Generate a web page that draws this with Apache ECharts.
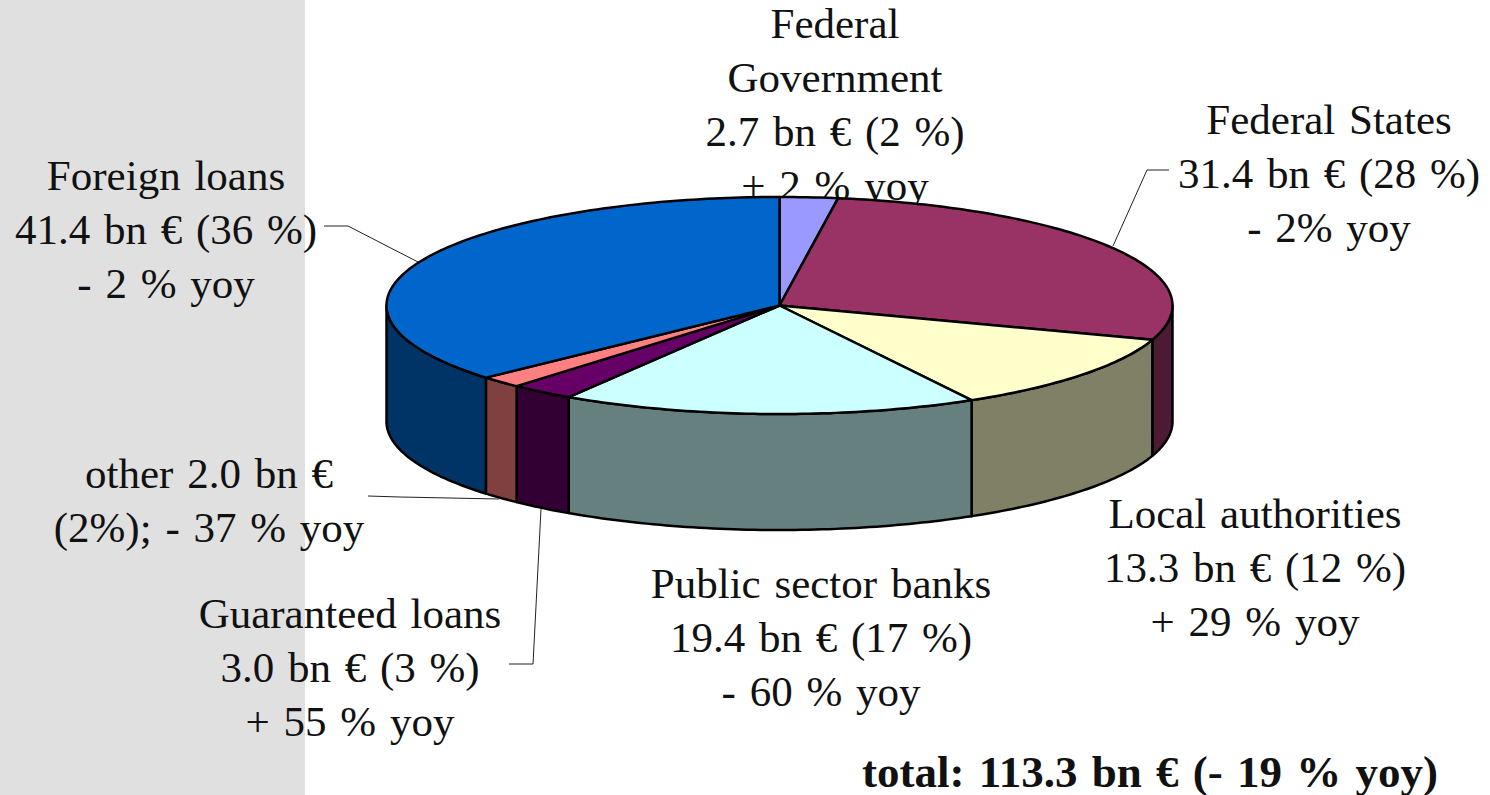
<!DOCTYPE html>
<html>
<head>
<meta charset="utf-8">
<title>Borrowing by issuer</title>
<style>
  html, body { margin: 0; padding: 0; background: #fff; }
  #main { width: 1490px; height: 795px; }
  #main text { word-spacing: 3px; }
</style>
<script src="https://cdn.jsdelivr.net/npm/echarts@6/dist/echarts.min.js"></script>
</head>
<body>
<div id="main"></div>
<script>
const sliceNames = ['Federal Government', 'Federal States', 'Local authorities', 'Public sector banks', 'Guaranteed loans', 'other', 'Foreign loans'];
const sliceValues = [2.7, 31.4, 13.3, 19.4, 3.0, 2.0, 41.4];
const topColors = ['#9999ff', '#993366', '#ffffcc', '#ccffff', '#660066', '#ff8080', '#0066cc'];
const sideColors = ['#4d4d80', '#4d1a33', '#808066', '#668080', '#330033', '#804040', '#003366'];

const labelText = [
  ['Federal', 'Government', '2.7 bn € (2 %)', '+ 2 % yoy'],
  ['Federal States', '31.4 bn € (28 %)', '- 2% yoy'],
  ['Local authorities', '13.3 bn € (12 %)', '+ 29 % yoy'],
  ['Public sector banks', '19.4 bn € (17 %)', '- 60 % yoy'],
  ['Guaranteed loans', '3.0 bn € (3 %)', '+ 55 % yoy'],
  ['other 2.0 bn €', '(2%); - 37 % yoy'],
  ['Foreign loans', '41.4 bn € (36 %)', '- 2 % yoy']
];
const labelCenterX = [835, 1329, 1255, 821, 350, 209, 166];
const labelFirstBaseline = [38, 134, 528, 598, 628, 488, 190];
const totalText = 'total: 113.3 bn € (- 19 % yoy)';

const leaderLines = [
  [[324, 226], [348, 226], [418, 262]],
  [[1169, 170], [1147, 170], [1113, 246]],
  [[368, 496], [400, 497], [499, 499]],
  [[541, 509], [533, 664], [509, 664]]
];

const cx = 779.5, cy = 305.5, rx = 393, ry = 108.5, depth = 116;
const lineGap = 54, fontSize = 43;
const serif = '"Liberation Serif", serif';

const sum = sliceValues.reduce(function (a, b) { return a + b; }, 0);
const startAngle = [];
let running = 0;
sliceValues.forEach(function (v) {
  startAngle.push(running / sum * 360);
  running += v;
});

// angle runs clockwise from twelve o'clock
function rimPoint(deg, dy) {
  const r = deg * Math.PI / 180;
  return [cx + rx * Math.sin(r), cy - ry * Math.cos(r) + (dy || 0)];
}
function arcPoints(from, to, dy) {
  const pts = [];
  for (let a = from; a < to; a += 1) pts.push(rimPoint(a, dy));
  pts.push(rimPoint(to, dy));
  return pts;
}

function renderTop(params, api) {
  const from = startAngle[params.dataIndex];
  const to = from + api.value(0) / sum * 360;
  return {
    type: 'polygon',
    shape: { points: [[cx, cy]].concat(arcPoints(from, to)) },
    style: { fill: topColors[params.dataIndex], stroke: '#000', lineWidth: 2.5, lineJoin: 'round' }
  };
}

// only the front half of the rim (90..270) shows a wall
function renderWall(params, api) {
  const from = Math.max(startAngle[params.dataIndex], 90);
  const to = Math.min(startAngle[params.dataIndex] + api.value(0) / sum * 360, 270);
  if (to <= from) return null;
  return {
    type: 'polygon',
    shape: { points: arcPoints(from, to).concat(arcPoints(from, to, depth).reverse()) },
    style: { fill: sideColors[params.dataIndex], stroke: '#000', lineWidth: 2.5, lineJoin: 'round' }
  };
}

const graphics = [{
  type: 'rect',
  z: 0,
  shape: { x: 0, y: 0, width: 305, height: 795 },
  style: { fill: '#e0e0e0' }
}];

leaderLines.forEach(function (pts) {
  graphics.push({
    type: 'polyline',
    z: 1,
    shape: { points: pts },
    style: { fill: null, stroke: '#222', lineWidth: 1 }
  });
});

labelText.forEach(function (lines, i) {
  lines.forEach(function (line, j) {
    graphics.push({
      type: 'text',
      z: 1,
      x: labelCenterX[i],
      y: labelFirstBaseline[i] + 7 + j * lineGap,
      style: {
        text: line,
        font: fontSize + 'px ' + serif,
        fill: '#111',
        textAlign: 'center',
        textVerticalAlign: 'bottom'
      }
    });
  });
});

graphics.push({
  type: 'text',
  z: 1,
  x: 1150,
  y: 794,
  style: {
    text: totalText,
    font: 'bold 45px ' + serif,
    fill: '#111',
    textAlign: 'center',
    textVerticalAlign: 'bottom'
  }
});

const myChart = echarts.init(document.getElementById('main'), null, { renderer: 'svg' });
const option = {
  animation: false,
  backgroundColor: '#fff',
  graphic: { elements: graphics },
  series: [
    {
      type: 'custom',
      name: 'walls',
      coordinateSystem: 'none',
      z: 5,
      renderItem: renderWall,
      data: sliceValues.map(function (v, i) { return { name: sliceNames[i], value: [v] }; })
    },
    {
      type: 'custom',
      name: 'tops',
      coordinateSystem: 'none',
      z: 6,
      renderItem: renderTop,
      data: sliceValues.map(function (v, i) { return { name: sliceNames[i], value: [v] }; })
    }
  ]
};
myChart.setOption(option, true);
</script>
</body>
</html>
